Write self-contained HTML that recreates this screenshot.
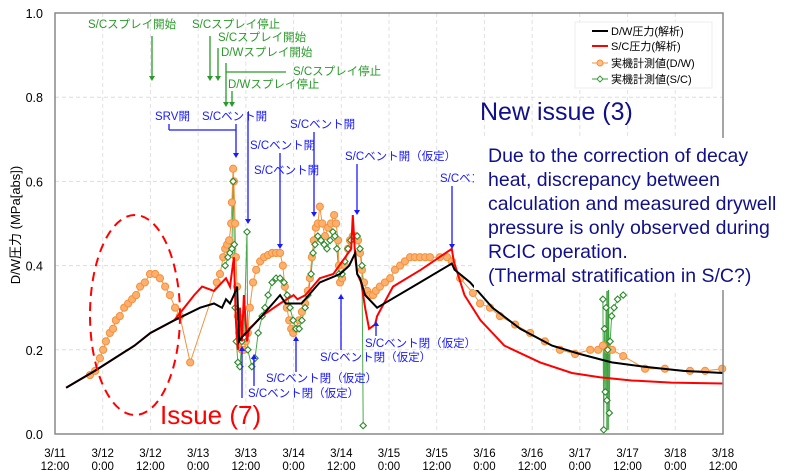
<!DOCTYPE html>
<html><head><meta charset="utf-8"><style>
html,body{margin:0;padding:0;background:#fff;}
svg{display:block;font-family:"Liberation Sans","Noto Sans CJK JP",sans-serif;}
</style></head><body>
<svg id="chart" width="800" height="471" viewBox="0 0 800 471" xmlns="http://www.w3.org/2000/svg">
<rect width="800" height="471" fill="#fff"/>
<g id="grid"></g>
<g id="series"></g>
<rect x="55" y="13" width="668" height="421" fill="none" stroke="#888" stroke-width="1.5"/>
<g id="axes"></g>
<text transform="translate(20,225) rotate(-90)" text-anchor="middle" font-size="13" fill="#000">D/W圧力 (MPa[abs])</text>

<g fill="#2a9a2a" stroke="none" font-size="11.5">
<text x="88" y="28">S/Cスプレイ開始</text>
<text x="192" y="28">S/Cスプレイ停止</text>
<text x="218" y="41">S/Cスプレイ開始</text>
<text x="221" y="56">D/Wスプレイ開始</text>
<text x="293" y="75">S/Cスプレイ停止</text>
<text x="228" y="88">D/Wスプレイ停止</text>
<g stroke="#2a9a2a" stroke-width="1.3">
<line x1="152" y1="36" x2="152" y2="78"/><line x1="210" y1="36" x2="210" y2="78"/>
<line x1="218" y1="48" x2="218" y2="78"/><line x1="226" y1="63" x2="226" y2="104"/>
<line x1="226" y1="72" x2="286" y2="72"/><line x1="232" y1="91" x2="232" y2="104"/>
</g>
<path d="M149,76 L155,76 L152,81Z M207,76 L213,76 L210,81Z M215,76 L221,76 L218,81Z M223,102 L229,102 L226,107Z M229,102 L235,102 L232,107Z"/>
</g>

<g fill="#1a1aff" font-size="11.5">
<text x="155" y="120">SRV開</text>
<text x="202" y="120">S/Cベント開</text>
<text x="250" y="149">S/Cベント開</text>
<text x="254" y="174">S/Cベント開</text>
<text x="290" y="128">S/Cベント開</text>
<text x="345" y="160">S/Cベント開（仮定）</text>
<text x="440" y="182">S/Cベント開</text>
<text x="365" y="347">S/Cベント閉（仮定）</text>
<text x="320" y="361">S/Cベント閉（仮定）</text>
<text x="266" y="382">S/Cベント閉（仮定）</text>
<text x="248" y="397">S/Cベント閉（仮定）</text>
<g stroke="#1a1aff" stroke-width="1.3">
<line x1="169" y1="124" x2="169" y2="130"/><line x1="169" y1="130" x2="236" y2="130"/>
<line x1="236" y1="124" x2="236" y2="154"/><line x1="248" y1="112" x2="248" y2="220"/>
<line x1="280" y1="153" x2="280" y2="245"/><line x1="314" y1="132" x2="314" y2="213"/>
<line x1="357" y1="164" x2="357" y2="211"/><line x1="452" y1="186" x2="452" y2="245"/>
<line x1="376" y1="336" x2="376" y2="324"/><line x1="341" y1="350" x2="341" y2="297"/>
<line x1="296" y1="372" x2="296" y2="339"/><line x1="254" y1="386" x2="254" y2="357"/>
<line x1="242" y1="398" x2="242" y2="349"/>
</g>
<path d="M233,153 L239,153 L236,158Z M245,219 L251,219 L248,224Z M277,244 L283,244 L280,249Z M311,212 L317,212 L314,217Z M354,210 L360,210 L357,215Z M449,244 L455,244 L452,249Z M373,326 L379,326 L376,321Z M338,299 L344,299 L341,294Z M293,341 L299,341 L296,336Z M251,359 L257,359 L254,354Z M239,351 L245,351 L242,346Z"/>
</g>

<ellipse cx="135" cy="315" rx="45" ry="100" fill="none" stroke="#f00" stroke-width="2" stroke-dasharray="9,6"/>
<text x="160" y="424" font-size="26" fill="#f00">Issue (7)</text>

<rect x="474" y="138" width="326" height="152" fill="#fff"/>
<text x="480" y="120" font-size="25" fill="#10108a">New issue (3)</text>
<g font-size="19.5" fill="#10108a">
<text x="488" y="162">Due to the correction of decay</text>
<text x="488" y="186">heat, discrepancy between</text>
<text x="488" y="210">calculation and measured drywell</text>
<text x="488" y="234">pressure is only observed during</text>
<text x="488" y="258">RCIC operation.</text>
<text x="488" y="282">(Thermal stratification in S/C?)</text>
</g>

<g font-size="11">
<rect x="575" y="22" width="137" height="66" fill="#fff" stroke="#eee"/>
<g><line x1="592" y1="31" x2="608" y2="31" stroke="#000" stroke-width="2"/><text x="611" y="35">D/W圧力(解析)</text></g>
<g><line x1="592" y1="46" x2="608" y2="46" stroke="#f00" stroke-width="2"/><text x="611" y="50">S/C圧力(解析)</text></g>
<g><line x1="592" y1="63" x2="608" y2="63" stroke="#f5913a"/><circle cx="600" cy="63" r="3" fill="#fbc08a" stroke="#f5913a"/><text x="611" y="67">実機計測値(D/W)</text></g>
<g><line x1="592" y1="79" x2="608" y2="79" stroke="#3a9a3a"/><path d="M600,76 L603,79 L600,82 L597,79Z" fill="#fff" stroke="#3a9a3a"/><text x="611" y="83">実機計測値(S/C)</text></g>
</g>
</svg>
<script>
const xTickLabels1 = ["3/11","3/12","3/12","3/13","3/13","3/14","3/14","3/15","3/15","3/16","3/16","3/17","3/17","3/18","3/18"];
const xTickLabels2 = ["12:00","0:00","12:00","0:00","12:00","0:00","12:00","0:00","12:00","0:00","12:00","0:00","12:00","0:00","12:00"];
const yTicks = [0,0.2,0.4,0.6,0.8,1.0];
const dwCalcT = [2.8,10,20,24,30,36.5,40,42,43,44,45,45.8,46.3,47,49,52,56.6,58,61,62,66.6,71.7,74,75.5,76,76.7,78,81,90,99.8,100.5,104.4,110,117,125,132,140,148,158,168];
const dwCalcV = [0.11,0.15,0.21,0.24,0.27,0.3,0.31,0.3,0.32,0.31,0.33,0.35,0.22,0.23,0.25,0.28,0.33,0.31,0.31,0.31,0.36,0.38,0.4,0.43,0.38,0.37,0.33,0.3,0.35,0.405,0.39,0.36,0.3,0.25,0.21,0.19,0.17,0.16,0.15,0.145];
const scCalcT = [2.8,10,20,24,30,35,37,40,42,43,44,45,45.5,46,46.5,47,47.5,48.3,48.8,50,52,56.6,60,61,63,66.6,70,73,74.5,74.9,75.5,76,77,78,79,80.5,81,85,92,99.8,100.3,103,107,113,122,130,137,145,155,168];
const scCalcV = [0.11,0.15,0.21,0.24,0.27,0.33,0.35,0.34,0.36,0.37,0.35,0.42,0.27,0.2,0.3,0.22,0.33,0.22,0.25,0.26,0.28,0.31,0.33,0.32,0.33,0.37,0.38,0.42,0.44,0.52,0.42,0.38,0.36,0.3,0.25,0.26,0.28,0.35,0.39,0.44,0.41,0.33,0.27,0.21,0.17,0.145,0.135,0.127,0.122,0.12];
const dwMeasT = [8.8,10.1,11.3,12.1,12.8,13.8,14.6,15.3,16.3,17.4,18.4,19.4,20.4,21.4,22.6,23.9,25.2,26.4,27.7,28.9,30.2,31.4,34,
 40.7,41.5,42.3,42.8,43.3,43.8,44.3,44.5,44.8,45,45.3,45.5,45.8,46,46.3,46.5,47,47.5,48,48.5,
 49,49.8,50.6,51.6,52.6,53.6,54.6,55.6,56.6,57.3,57.8,58.3,58.9,59.4,59.9,60.6,61.4,
 62.1,62.9,63.6,64.1,64.6,65.1,65.6,66.1,66.6,67.2,67.9,68.7,69.4,70.2,70.7,71.2,71.4,71.7,
 72.2,72.9,73.7,74.2,74.9,75.7,76.2,76.7,77.2,77.7,78.5,79.2,80,80.7,81.7,83,84.3,85.5,86.8,88,89.3,90.5,91.8,93.1,94.3,96.8,98.6,99.8,
 101.9,105.1,106.9,109.4,111.9,115.7,119.5,123.2,127,130.8,134.6,136.6,137.8,139.1,140.1,142.9,148.4,153.4,159.7,163.5,167.8];
const dwMeasV = [0.14,0.15,0.18,0.2,0.22,0.24,0.25,0.27,0.28,0.3,0.31,0.32,0.33,0.35,0.36,0.38,0.38,0.37,0.35,0.33,0.3,0.28,0.17,
 0.36,0.38,0.42,0.44,0.45,0.46,0.5,0.55,0.63,0.6,0.5,0.42,0.35,0.28,0.24,0.22,0.2,0.2,0.22,0.24,
 0.3,0.36,0.39,0.41,0.42,0.425,0.43,0.43,0.43,0.4,0.35,0.3,0.27,0.25,0.24,0.25,0.27,
 0.29,0.31,0.34,0.37,0.42,0.46,0.49,0.5,0.54,0.5,0.47,0.49,0.5,0.52,0.5,0.46,0.4,0.36,
 0.37,0.4,0.44,0.46,0.47,0.47,0.46,0.43,0.39,0.36,0.34,0.33,0.33,0.34,0.35,0.36,0.37,0.39,0.4,0.41,0.42,0.42,0.42,0.42,0.42,0.42,0.42,0.41,
 0.37,0.335,0.31,0.3,0.28,0.26,0.24,0.22,0.2,0.19,0.2,0.2,0.21,0.2,0.2,0.185,0.155,0.155,0.15,0.15,0.155];
const scMeas1T = [42.8,43.5,44,44.5,44.8,45.1,45.3,45.6,46,46.5,47,47.5,48.3,48.5,49.5,
 50.3,51.1,52.1,52.8,53.6,54.6,55.6,56.6,57.6,58.4,59.1,59.9,60.6,61.4,62.1,62.9,63.6,64.4,64.9,65.4,66.1,66.9,67.7,68.4,69.2,69.9,70.4,70.9,71.4,72.2,72.9,73.7,74.4,75.2,76,76.7,77.2,77.5];
const scMeas1V = [0.4,0.42,0.43,0.44,0.6,0.45,0.3,0.22,0.17,0.16,0.22,0.23,0.48,0.2,0.16,
 0.18,0.24,0.28,0.3,0.33,0.36,0.37,0.37,0.36,0.33,0.3,0.27,0.25,0.25,0.27,0.3,0.33,0.38,0.43,0.45,0.47,0.46,0.45,0.44,0.46,0.48,0.47,0.44,0.38,0.38,0.41,0.44,0.46,0.47,0.47,0.44,0.4,0.02];
const scMeas2T = [137.8,138,138.2,138.4,138.6,138.8,139,139.2,139.4,139.6,140,140.6,141.5,142.9];
const scMeas2V = [0.32,0.01,0.25,0.1,0.3,0.08,0.2,0.35,0.05,0.22,0.28,0.3,0.32,0.33];

const X0=55,X1=723,Y0=434,Y1=13,TMAX=168;
function xs(t){return X0+(X1-X0)*t/TMAX;}
function ys(v){return Y0-(Y0-Y1)*v;}
const NS="http://www.w3.org/2000/svg";
function mk(tag,attrs,parent){const e=document.createElementNS(NS,tag);for(const k in attrs)e.setAttribute(k,attrs[k]);parent.appendChild(e);return e;}
const grid=document.getElementById('grid'),axes=document.getElementById('axes'),ser=document.getElementById('series');
yTicks.forEach((v,i)=>{
  if(v>0&&v<1){const g=mk('line',{x1:X0,x2:X1,y1:ys(v),y2:ys(v),stroke:'#ddd','stroke-dasharray':'4,3'},grid);
  
  }
  const t=mk('text',{x:X0-12,y:ys(v)+5,'text-anchor':'end','font-size':'12.5'},axes);t.textContent=v.toFixed(1);
  
  
});
xTickLabels1.forEach((l,i)=>{
  const t=i*12,x=xs(t);
  if(i>0&&i<xTickLabels1.length-1){const g=mk('line',{x1:x,x2:x,y1:Y1,y2:Y0,stroke:'#e2e2e2','stroke-dasharray':'4,3'},grid);
  
  }
  const a=mk('text',{x:x,y:457,'text-anchor':'middle','font-size':'11.5'},axes);a.textContent=l;
  
  
  const b=mk('text',{x:x,y:470,'text-anchor':'middle','font-size':'11.5'},axes);b.textContent=xTickLabels2[i];
  
  
});
function pts(T,V){return T.map((t,i)=>xs(t).toFixed(1)+','+ys(V[i]).toFixed(1)).join(' ');}
[[scMeas1T,scMeas1V],[scMeas2T,scMeas2V]].forEach(([T,V],k)=>{
  const l=mk('polyline',{points:pts(T,V),fill:'none',stroke:'#4aaa4a','stroke-width':1},ser);
  
  
});
const band=mk('line',{x1:xs(139),x2:xs(139),y1:ys(0.34),y2:ys(0.01),stroke:'#3a9a3a','stroke-width':3,opacity:0.8},ser);


const ol=mk('polyline',{points:pts(dwMeasT,dwMeasV),fill:'none',stroke:'#f5913a','stroke-width':1},ser);


dwMeasT.forEach((t,i)=>{const c=mk('circle',{cx:xs(t),cy:ys(dwMeasV[i]),r:3.6,fill:'#fbb070',stroke:'#f5913a','stroke-width':1},ser);
  
  });
[[scMeas1T,scMeas1V],[scMeas2T,scMeas2V]].forEach(([T,V])=>{T.forEach((t,i)=>{const x=xs(t),y=ys(V[i]);
  const d=mk('path',{d:`M${x},${y-3.2} L${x+3.2},${y} L${x},${y+3.2} L${x-3.2},${y}Z`,fill:'#fff',stroke:'#2a8a2a','stroke-width':1.1},ser);
  
  });});
const rl=mk('polyline',{points:pts(scCalcT,scCalcV),fill:'none',stroke:'#f00','stroke-width':2},ser);


const bl=mk('polyline',{points:pts(dwCalcT,dwCalcV),fill:'none',stroke:'#000','stroke-width':2},ser);


</script>
</body></html>
